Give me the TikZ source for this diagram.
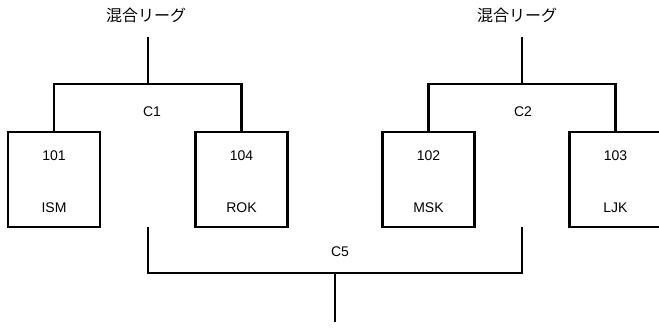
\documentclass[tikz,border=0pt]{standalone}
\usepackage{fontspec}
\setmainfont{Liberation Sans}
\newfontfamily\jpfont{Noto Sans CJK JP}
\usepackage{tikz}
\usetikzlibrary{positioning}

\tikzset{
	team/.style = {draw, line width=2.2pt, minimum width=92pt, minimum height=95pt, inner sep=0pt},
	lbl/.style = {font=\fontsize{14}{16}\selectfont, inner sep=0pt},
	league/.style = {font=\jpfont\fontsize{16}{18}\selectfont, inner sep=0pt, outer sep=0pt, text height=12pt, text depth=3pt},
	link/.style = {line width=2.2pt}
}

\begin{document}
\begin{tikzpicture}[x=1pt, y=-1pt]
	\useasboundingbox (0,0) rectangle (659,327);
	
	%% Mannschaften
	\node [team] (b101) at (54,179.5) {};
	\node [team] (b104) at (241.5,179.5) {};
	\node [team] (b102) at (428.5,179.5) {};
	\node [team] (b103) at (615.5,179.5) {};
	
	\node [lbl] (n101) at ([yshift=-25pt]b101.north) {101};
	\node [lbl] (s101) at ([yshift=20pt]b101.south) {ISM};
	\node [lbl] (n104) at ([yshift=-25pt]b104.north) {104};
	\node [lbl] (s104) at ([yshift=20pt]b104.south) {ROK};
	\node [lbl] (n102) at ([yshift=-25pt]b102.north) {102};
	\node [lbl] (s102) at ([yshift=20pt]b102.south) {MSK};
	\node [lbl] (n103) at ([yshift=-25pt]b103.north) {103};
	\node [lbl] (s103) at ([yshift=20pt]b103.south) {LJK};
	
	%% Ligen
	\node [league] (lg1) at (146,17) {混合リーグ};
	\node [league] (lg2) at (517,17) {混合リーグ};
	
	\coordinate (j1) at (148,84);
	\coordinate (j2) at (522,84);
	\draw [link] (lg1.south -| j1) ++(0,12) -- (j1);
	\draw [link] (lg2.south -| j2) ++(0,12) -- (j2);
	\draw [link] (b101.north) |- (j1) -| (b104.north);
	\draw [link] (b102.north) |- (j2) -| (b103.north);
	\node [lbl] (c1) at (152,112) {C1};
	\node [lbl] (c2) at (523,112) {C2};
	
	%% C5
	\coordinate (c5l) at (148,227);
	\coordinate (c5r) at (522,227);
	\coordinate (j5) at (335,273);
	\coordinate (e5) at (335,322);
	\draw [link] (c5l) |- (j5) -| (c5r);
	\draw [link] (j5) -- (e5);
	\node [lbl] (c5) at (340,252) {C5};
\end{tikzpicture}
\end{document}
